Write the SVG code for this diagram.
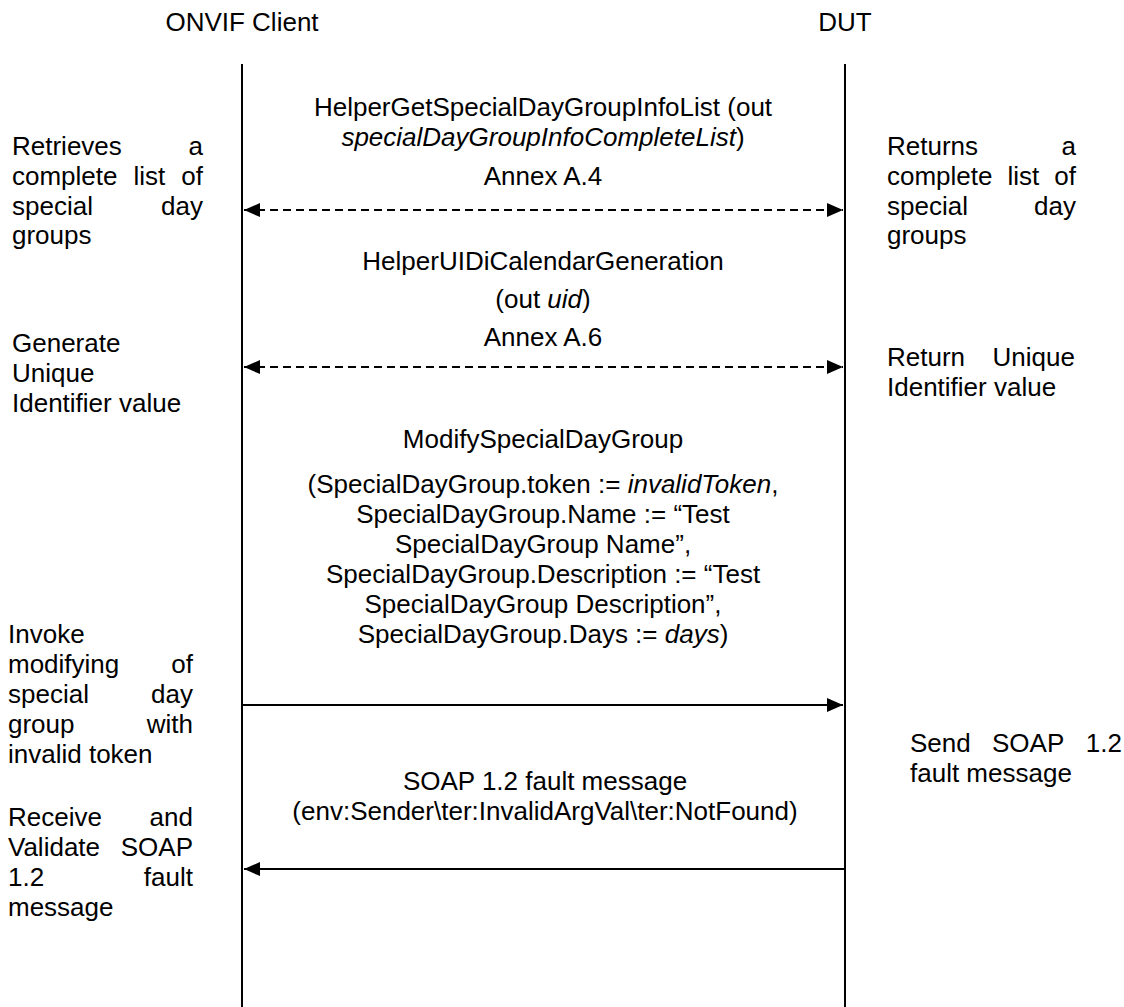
<svg xmlns="http://www.w3.org/2000/svg" width="1124" height="1007" viewBox="0 0 1124 1007">
<defs>
<style>
text{font-family:"Liberation Sans",Arial,sans-serif;font-size:26px;fill:#000}
.c{text-anchor:middle}
.e{text-anchor:end}
.i{font-style:italic}
.life{stroke:#000;stroke-width:2;fill:none}
.msg{stroke:#000;stroke-width:1.8;fill:none}
.dash{stroke-dasharray:8 5}
</style>
<marker id="ah" viewBox="0 0 16 14" refX="16" refY="7" markerWidth="16" markerHeight="14" markerUnits="userSpaceOnUse" orient="auto-start-reverse">
<path d="M0,0 L16,7 L0,14 Z" fill="#000"/>
</marker>
</defs>
<rect width="1124" height="1007" fill="#fff"/>

<g id="client">
<text class="c" x="242" y="31">ONVIF Client</text>
<line class="life" x1="242" y1="64" x2="242" y2="1007"/>
</g>
<g id="dut">
<text class="c" x="845" y="31">DUT</text>
<line class="life" x1="845" y1="64" x2="845" y2="1007"/>
</g>

<g id="connectors">
<line class="msg dash" x1="244" y1="210" x2="843" y2="210" marker-start="url(#ah)" marker-end="url(#ah)"/>
<line class="msg dash" x1="244" y1="367" x2="843" y2="367" marker-start="url(#ah)" marker-end="url(#ah)"/>
<line class="msg" x1="243" y1="705" x2="843" y2="705" marker-end="url(#ah)"/>
<line class="msg" x1="844" y1="869" x2="244" y2="869" marker-end="url(#ah)"/>
</g>

<g id="msg1-label">
<text class="c" x="543" y="116">HelperGetSpecialDayGroupInfoList (out</text>
<text class="c" x="543" y="146"><tspan class="i">specialDayGroupInfoCompleteList</tspan>)</text>
<text class="c" x="543" y="185">Annex A.4</text>
</g>
<g id="msg2-label">
<text class="c" x="543" y="270">HelperUIDiCalendarGeneration</text>
<text class="c" x="543" y="308">(out <tspan class="i">uid</tspan>)</text>
<text class="c" x="543" y="346">Annex A.6</text>
</g>
<g id="msg3-label">
<text class="c" x="543" y="448">ModifySpecialDayGroup</text>
<text class="c" x="543" y="493">(SpecialDayGroup.token := <tspan class="i">invalidToken</tspan>,</text>
<text class="c" x="543" y="523">SpecialDayGroup.Name := “Test</text>
<text class="c" x="543" y="553">SpecialDayGroup Name”,</text>
<text class="c" x="543" y="583">SpecialDayGroup.Description := “Test</text>
<text class="c" x="543" y="613">SpecialDayGroup Description”,</text>
<text class="c" x="543" y="643">SpecialDayGroup.Days := <tspan class="i">days</tspan>)</text>
</g>
<g id="msg4-label">
<text class="c" x="545" y="790">SOAP 1.2 fault message</text>
<text class="c" x="545" y="820">(env:Sender\ter:InvalidArgVal\ter:NotFound)</text>
</g>

<g id="note-left-1">
<text x="12" y="155">Retrieves</text><text class="e" x="203" y="155">a</text>
<text x="12" y="185">complete</text><text x="133.5" y="185">list</text><text class="e" x="203" y="185">of</text>
<text x="12" y="215">special</text><text class="e" x="203" y="215">day</text>
<text x="12" y="244">groups</text>
</g>
<g id="note-right-1">
<text x="887" y="155">Returns</text><text class="e" x="1076" y="155">a</text>
<text x="887" y="185">complete</text><text x="1007.5" y="185">list</text><text class="e" x="1076" y="185">of</text>
<text x="887" y="215">special</text><text class="e" x="1076" y="215">day</text>
<text x="887" y="244">groups</text>
</g>
<g id="note-left-2">
<text x="12" y="352">Generate</text>
<text x="12" y="382">Unique</text>
<text x="12" y="412">Identifier value</text>
</g>
<g id="note-right-2">
<text x="887" y="366">Return</text><text class="e" x="1075" y="366">Unique</text>
<text x="887" y="396">Identifier value</text>
</g>
<g id="note-left-3">
<text x="8" y="643">Invoke</text>
<text x="8" y="673">modifying</text><text class="e" x="193" y="673">of</text>
<text x="8" y="703">special</text><text class="e" x="193" y="703">day</text>
<text x="8" y="733">group</text><text class="e" x="193" y="733">with</text>
<text x="8" y="763">invalid token</text>
</g>
<g id="note-right-3">
<text x="910" y="752">Send</text><text x="992" y="752">SOAP</text><text class="e" x="1122" y="752">1.2</text>
<text x="910" y="782">fault message</text>
</g>
<g id="note-left-4">
<text x="8" y="826">Receive</text><text class="e" x="193" y="826">and</text>
<text x="8" y="856">Validate</text><text class="e" x="193" y="856">SOAP</text>
<text x="8" y="886">1.2</text><text class="e" x="193" y="886">fault</text>
<text x="8" y="916">message</text>
</g>
</svg>
